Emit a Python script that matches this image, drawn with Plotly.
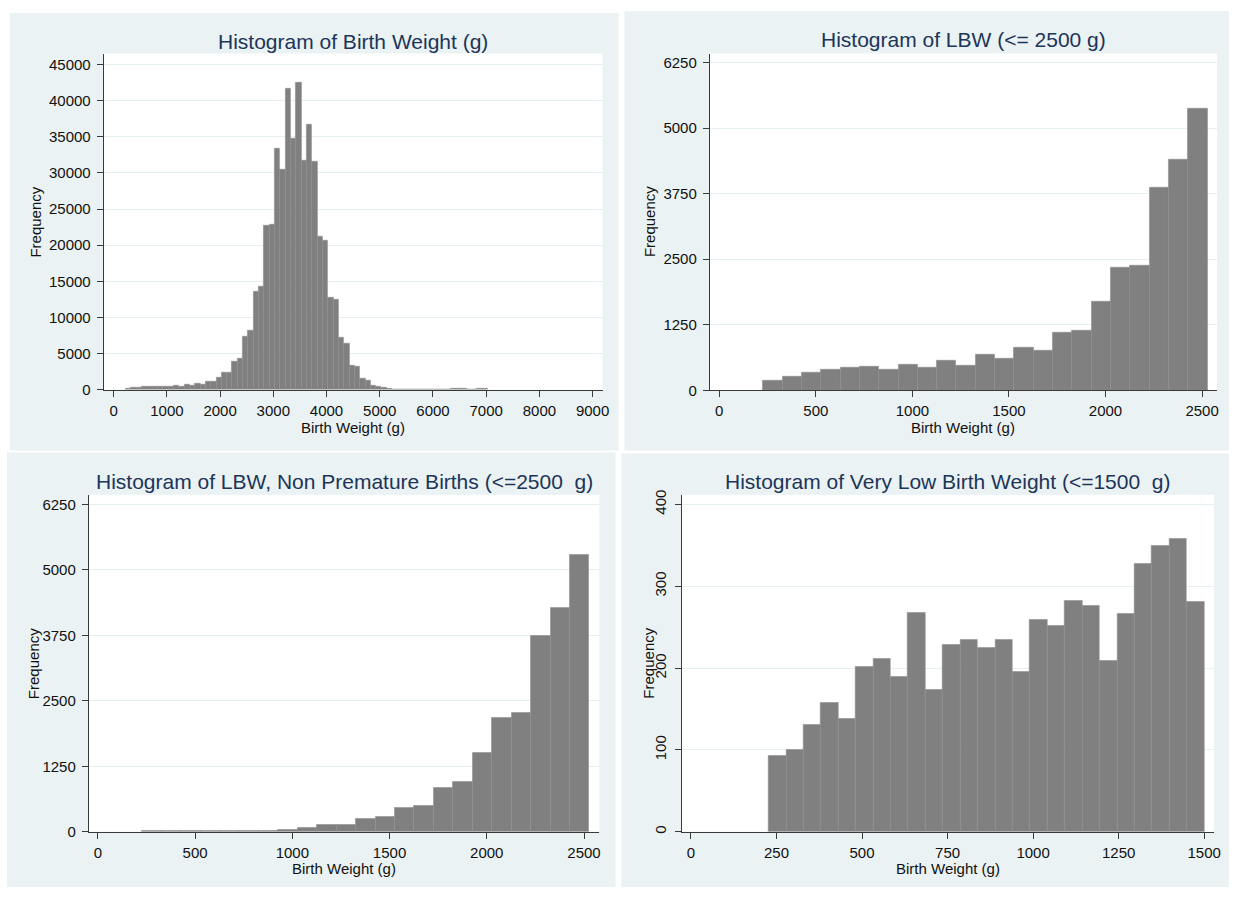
import plotly.graph_objects as go

# ---------------- data ----------------
# Panel 1: all births, bins start at 227 g, width 100 g
all_bin_start = 227
all_bin_width = 100
all_counts = [194, 269, 338, 394, 432, 451, 401, 488, 438, 570,
              476, 676, 613, 814, 757, 1102, 1139, 1684, 2335, 2379,
              3862, 4300, 7400, 8200, 13600, 14300, 22700, 22800, 33400, 30500,
              41700, 34700, 42500, 31700, 36700, 31600, 21200, 20700, 12700, 12500,
              7200, 6400, 3400, 3200, 1600, 1300, 600, 500, 250, 180,
              100, 90, 80, 70, 60, 60, 50, 50, 50, 40,
              0, 120, 120, 120, 0, 0, 110, 110]

# Panel 2: LBW (<= 2500 g)
lbw_bin_start = 227
lbw_bin_width = 100
lbw_counts = [194, 269, 338, 394, 432, 451, 401, 488, 438, 570,
              476, 676, 613, 814, 757, 1102, 1139, 1684, 2335, 2379,
              3862, 4400, 5377]

# Panel 3: LBW non premature
lbwnp_bin_start = 227
lbwnp_bin_width = 100
lbwnp_counts = [20, 12, 15, 15, 12, 12, 15, 30, 75, 125,
                125, 251, 282, 451, 489, 840, 959, 1517, 2175, 2263,
                3749, 4282, 5278]

# Panel 4: VLBW (<= 1500 g)
vlbw_bin_start = 227
vlbw_bin_width = 50.92
vlbw_counts = [93, 100, 131, 158, 138, 201, 211, 190, 268, 174,
               228, 235, 225, 234, 196, 259, 252, 282, 276, 209,
               266, 327, 349, 358, 281]

titles = ["Histogram of Birth Weight (g)",
          "Histogram of LBW (<= 2500 g)",
          "Histogram of LBW, Non Premature Births (<=2500  g)",
          "Histogram of Very Low Birth Weight (<=1500  g)"]
x_title = "Birth Weight (g)"
y_title = "Frequency"

x_ticks = [list(range(0, 9001, 1000)), list(range(0, 2501, 500)),
           list(range(0, 2501, 500)), list(range(0, 1501, 250))]
y_ticks = [list(range(0, 45001, 5000)), [0, 1250, 2500, 3750, 5000, 6250],
           [0, 1250, 2500, 3750, 5000, 6250], [0, 100, 200, 300, 400]]

# ---------------- layout geometry (pixels) ----------------
W, H = 1238, 897
BG = "#EAF2F3"
BAR = "#808080"
TITLE_C = "#1c3559"
FONT = "Liberation Sans, Arial, sans-serif"

panels = [
    dict(bg=(10, 8, 622, 452), plot=(104.3, 49.3, 606, 390.5),
         xr=[-187, 9187], yr=[0, 46510], title_xy=(355, 37), xt_y=418, yt_x=36, yt_y=220),
    dict(bg=(628, 6, 1236, 452), plot=(713.8, 49.3, 1223.9, 391),
         xr=[-49, 2577], yr=[0, 6419], title_xy=(969, 35), xt_y=418, yt_x=654, yt_y=220),
    dict(bg=(7, 454, 619, 895), plot=(89.3, 497, 602.8, 839),
         xr=[-46.5, 2579], yr=[0, 6432], title_xy=(346, 483), xt_y=866, yt_x=34, yt_y=668),
    dict(bg=(625, 455, 1236, 895), plot=(685.4, 497, 1221, 839),
         xr=[-27.6, 1529], yr=[0, 411.7], title_xy=(953, 483), xt_y=866, yt_x=652, yt_y=668),
]

series = [(all_bin_start, all_bin_width, all_counts),
          (lbw_bin_start, lbw_bin_width, lbw_counts),
          (lbwnp_bin_start, lbwnp_bin_width, lbwnp_counts),
          (vlbw_bin_start, vlbw_bin_width, vlbw_counts)]


def px(x):
    return x / W


def py(y):
    return 1 - y / H


fig = go.Figure()
shapes = []
annotations = []
layout_axes = {}

for i, (p, (start, width, counts)) in enumerate(zip(panels, series)):
    n = i + 1
    xa = "x" if n == 1 else f"x{n}"
    ya = "y" if n == 1 else f"y{n}"
    centers = [start + width * (k + 0.5) for k in range(len(counts))]
    fig.add_trace(go.Bar(
        x=centers, y=counts, width=[width] * len(counts),
        marker=dict(color=BAR, line=dict(color="#8e8e8e", width=0.6)),
        xaxis=xa, yaxis=ya, showlegend=False, hoverinfo="x+y"))

    x0, y0, x1, y1 = p["plot"]
    axis_common = dict(showline=True, linecolor="#3a3a3a", linewidth=1,
                       ticks="outside", ticklen=6, tickcolor="#3a3a3a",
                       tickfont=dict(family=FONT, size=15, color="#111111"),
                       tickformat="d", zeroline=False)
    layout_axes[("xaxis" if n == 1 else f"xaxis{n}")] = dict(
        domain=[px(x0), px(x1)], anchor=ya, range=p["xr"],
        tickvals=x_ticks[i], showgrid=False, ticklabelstandoff=1, **axis_common)
    yd = dict(domain=[py(y1), py(y0)], anchor=xa, range=p["yr"],
              tickvals=y_ticks[i], showgrid=True, gridcolor="#E6EFF1", gridwidth=1,
              ticklabelstandoff=3, **axis_common)
    if n == 4:
        yd["tickangle"] = -90
    layout_axes[("yaxis" if n == 1 else f"yaxis{n}")] = yd

    bx0, by0, bx1, by1 = p["bg"]
    shapes.append(dict(type="rect", xref="paper", yref="paper",
                       x0=px(bx0), x1=px(bx1), y0=py(by1), y1=py(by0),
                       fillcolor=BG, line=dict(width=0), layer="below"))
    shapes.append(dict(type="rect", xref="paper", yref="paper",
                       x0=px(x0), x1=px(x1), y0=py(y1), y1=py(y0),
                       fillcolor="white", line=dict(width=0), layer="below"))

    tx, ty = p["title_xy"]
    annotations.append(dict(text=titles[i], xref="paper", yref="paper",
                            x=px(tx), y=py(ty), xanchor="center", yanchor="middle",
                            showarrow=False, font=dict(family=FONT, size=21, color=TITLE_C)))
    annotations.append(dict(text=x_title, xref="paper", yref="paper",
                            x=px((x0 + x1) / 2), y=py(p["xt_y"]), xanchor="center", yanchor="top",
                            showarrow=False, font=dict(family=FONT, size=15, color="#111111")))
    annotations.append(dict(text=y_title, xref="paper", yref="paper",
                            x=px(p["yt_x"]), y=py(p["yt_y"]), xanchor="center", yanchor="middle",
                            textangle=-90, showarrow=False,
                            font=dict(family=FONT, size=15, color="#111111")))

fig.update_layout(
    width=W, height=H, margin=dict(l=0, r=0, t=0, b=0),
    paper_bgcolor="white", plot_bgcolor="rgba(0,0,0,0)",
    bargap=0, shapes=shapes, annotations=annotations,
    **layout_axes)

fig.write_html("out.html")
